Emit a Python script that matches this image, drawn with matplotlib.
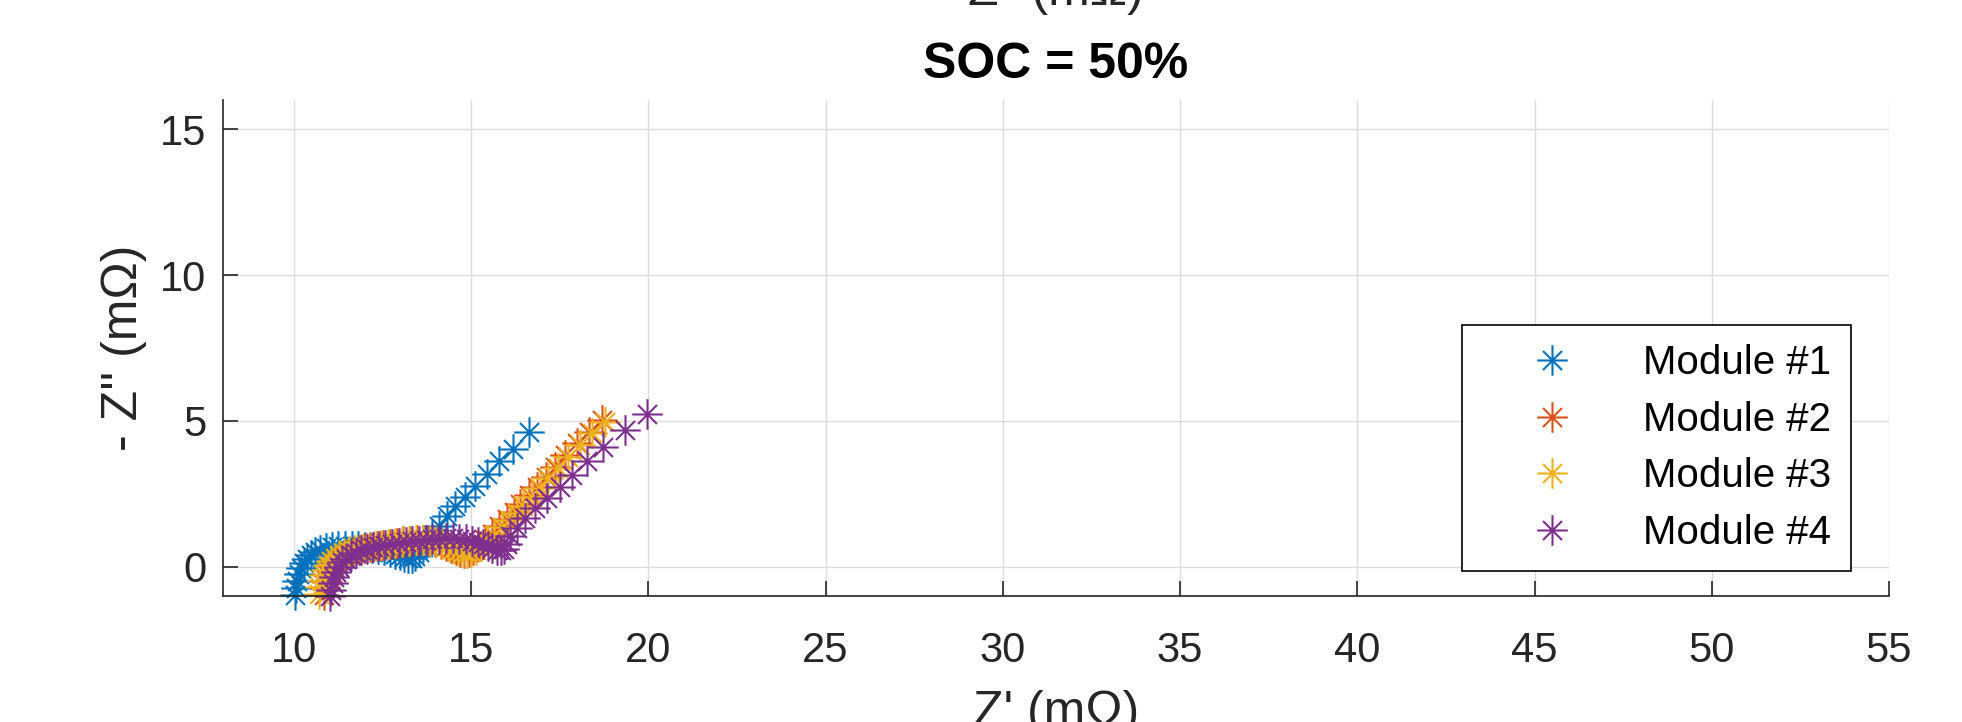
import matplotlib.pyplot as plt
from matplotlib.path import Path

plt.rcParams['font.family'] = ['Liberation Sans', 'DejaVu Sans']

# Nyquist data, one list per module (Z' and -Z'' in mOhm)
labels = ['Module #1', 'Module #2', 'Module #3', 'Module #4']
colors = ['#0072BD', '#D95319', '#EDB120', '#7E2F8E']

z_re_1 = [10.02, 10.05, 10.09, 10.14, 10.20, 10.28, 10.37, 10.48, 10.60, 10.74,
          10.90, 11.07, 11.25, 11.44, 11.63, 11.82, 12.01, 12.20, 12.38, 12.55,
          12.71, 12.86, 13.00, 13.12, 13.23, 13.33, 13.43, 13.53, 13.64, 13.76,
          13.90, 14.08, 14.31, 14.55, 14.83, 15.11, 15.44, 15.80, 16.19, 16.62]
z_im_1 = [-0.98, -0.72, -0.48, -0.25, -0.05, 0.12, 0.27, 0.40, 0.50, 0.58,
          0.64, 0.68, 0.71, 0.72, 0.72, 0.71, 0.69, 0.66, 0.62, 0.57,
          0.51, 0.45, 0.39, 0.34, 0.30, 0.29, 0.36, 0.50, 0.68, 0.88,
          1.10, 1.40, 1.74, 2.07, 2.41, 2.78, 3.17, 3.61, 4.05, 4.62]

z_re_2 = [10.86, 10.89, 10.93, 10.98, 11.04, 11.11, 11.20, 11.30, 11.41, 11.54,
          11.68, 11.83, 11.99, 12.16, 12.34, 12.52, 12.71, 12.90, 13.09, 13.28,
          13.47, 13.65, 13.82, 13.99, 14.15, 14.30, 14.44, 14.57, 14.69, 14.81,
          14.93, 15.06, 15.21, 15.38, 15.58, 15.80, 16.01, 16.21, 16.39, 16.63,
          16.86, 17.10, 17.38, 17.66, 17.99, 18.32, 18.70]
z_im_2 = [-0.95, -0.73, -0.51, -0.31, -0.13, 0.03, 0.16, 0.27, 0.37, 0.45,
          0.52, 0.58, 0.63, 0.67, 0.71, 0.75, 0.79, 0.83, 0.87, 0.90,
          0.92, 0.92, 0.90, 0.86, 0.79, 0.71, 0.63, 0.56, 0.51, 0.49,
          0.51, 0.58, 0.72, 0.91, 1.14, 1.40, 1.65, 1.89, 2.15, 2.46,
          2.75, 3.09, 3.43, 3.83, 4.23, 4.63, 5.03]

z_re_3 = [10.72, 10.75, 10.79, 10.84, 10.90, 10.97, 11.06, 11.16, 11.28, 11.41,
          11.56, 11.72, 11.89, 12.07, 12.26, 12.45, 12.65, 12.85, 13.05, 13.25,
          13.45, 13.64, 13.83, 14.01, 14.18, 14.34, 14.49, 14.63, 14.76, 14.88,
          15.00, 15.13, 15.28, 15.45, 15.65, 15.88, 16.09, 16.29, 16.47, 16.71,
          16.94, 17.18, 17.46, 17.74, 18.07, 18.40, 18.78]
z_im_3 = [-0.92, -0.70, -0.48, -0.28, -0.10, 0.06, 0.19, 0.30, 0.39, 0.47,
          0.53, 0.58, 0.62, 0.66, 0.70, 0.74, 0.78, 0.82, 0.86, 0.89,
          0.91, 0.91, 0.89, 0.85, 0.78, 0.70, 0.62, 0.55, 0.50, 0.48,
          0.50, 0.57, 0.70, 0.88, 1.10, 1.35, 1.60, 1.84, 2.10, 2.41,
          2.70, 3.04, 3.38, 3.78, 4.18, 4.58, 4.98]

z_re_4 = [11.02, 11.05, 11.09, 11.14, 11.20, 11.28, 11.37, 11.48, 11.60, 11.74,
          11.89, 12.05, 12.22, 12.40, 12.58, 12.77, 12.96, 13.15, 13.34, 13.53,
          13.72, 13.91, 14.10, 14.29, 14.48, 14.67, 14.85, 15.02, 15.18, 15.33,
          15.47, 15.60, 15.72, 15.83, 15.93, 16.02, 16.10, 16.29, 16.52, 16.80,
          17.13, 17.51, 17.84, 18.26, 18.73, 19.34, 19.95]
z_im_4 = [-1.00, -0.78, -0.56, -0.36, -0.17, 0.00, 0.15, 0.28, 0.39, 0.48,
          0.56, 0.62, 0.67, 0.71, 0.75, 0.78, 0.81, 0.84, 0.87, 0.90,
          0.93, 0.95, 0.97, 0.98, 0.98, 0.97, 0.94, 0.90, 0.84, 0.77,
          0.70, 0.63, 0.58, 0.56, 0.60, 0.78, 1.04, 1.33, 1.67, 2.01,
          2.35, 2.75, 3.15, 3.61, 4.12, 4.69, 5.23]

series = [(z_re_1, z_im_1), (z_re_2, z_im_2), (z_re_3, z_im_3), (z_re_4, z_im_4)]

x_ticks = [10, 15, 20, 25, 30, 35, 40, 45, 50, 55]
y_ticks = [0, 5, 10, 15]

# matlab style asterisk: a plus with slightly shorter diagonals
a = 0.62
asterisk = Path([(-1, 0), (1, 0), (0, -1), (0, 1), (-a, -a), (a, a), (-a, a), (a, -a)],
                [Path.MOVETO, Path.LINETO] * 4)

fig = plt.figure(figsize=(19.62, 7.22), dpi=100)
ax = fig.add_axes([223 / 1962, 1 - 596 / 722, (1889 - 223) / 1962, (596 - 100) / 722])

for (xs, ys), lab, col in zip(series, labels, colors):
    ax.plot(xs, ys, linestyle='none', marker=asterisk, markersize=22,
            markeredgewidth=1.5, markeredgecolor=col, markerfacecolor='none',
            label=lab, clip_on=False)

ax.set_xlim(8, 55)
ax.set_ylim(-1, 16)
ax.set_xticks(x_ticks)
ax.set_yticks(y_ticks)

axis_col = '#262626'
for side in ['top', 'right']:
    ax.spines[side].set_visible(False)
for side in ['left', 'bottom']:
    ax.spines[side].set_color(axis_col)
    ax.spines[side].set_linewidth(1.2)

ax.tick_params(direction='in', length=10.5, width=1.2, colors=axis_col, labelsize=30)
ax.tick_params(axis='x', pad=25)
ax.tick_params(axis='y', pad=12)
ax.grid(True, color='#dcdcdc', linewidth=1.0)
ax.set_axisbelow(True)

leg = ax.legend(loc='upper left', bbox_to_anchor=(1462 / 1962, 1 - 325 / 722),
                bbox_transform=fig.transFigure, fontsize=29, frameon=True,
                fancybox=False, framealpha=1, edgecolor='black', borderpad=0.48,
                handlelength=3.5, handletextpad=0.52, labelspacing=0.46,
                borderaxespad=0, numpoints=1)
leg.get_frame().set_linewidth(1.2)

fig.text(1056 / 1962, 1 - 78 / 722, 'SOC = 50%', ha='center', va='baseline',
         fontsize=36, fontweight='bold', color='black')
fig.text(124 / 1962, 1 - 348 / 722, "- Z'' (m\u03a9)", ha='center', va='center',
         rotation=90, fontsize=36, color=axis_col)
fig.text(1056 / 1962, 1 - 726 / 722, "Z' (m\u03a9)", ha='center', va='baseline',
         fontsize=36, color=axis_col)
# label of the panel above, only its lower part shows
fig.text(1056 / 1962, 1 - 5 / 722, "Z'' (m\u03a9)", ha='center', va='baseline',
         fontsize=36, color=axis_col)

fig.savefig('out.png', dpi=100)
